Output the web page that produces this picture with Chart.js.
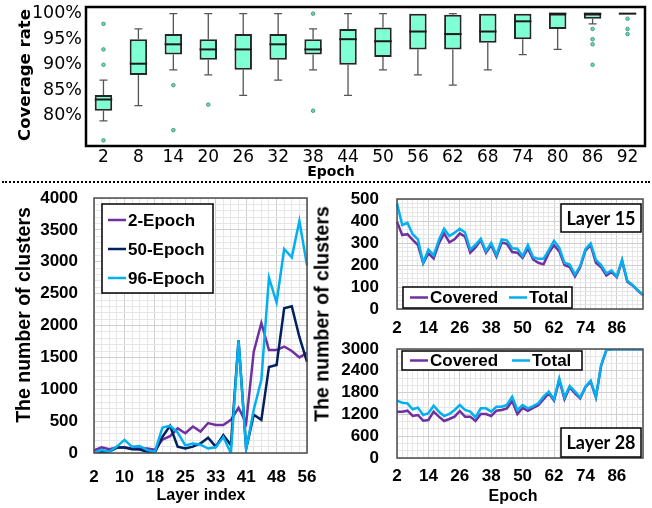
<!DOCTYPE html>
<html>
<head>
<meta charset="utf-8">
<script src="https://cdn.jsdelivr.net/npm/chart.js@4.4.1/dist/chart.umd.min.js"></script>
<style>
  body { margin: 0; background: #fff; width: 652px; height: 508px; position: relative; overflow: hidden; }
  canvas { position: absolute; }
  .t { position: absolute; white-space: nowrap; color: #000; transform: translate(-50%, -50%); }
  .v { transform: translate(-50%, -50%) rotate(-90deg); }
  #dots { position: absolute; left: 2px; top: 181px; width: 648px; border-top: 2px dotted #000; }
</style>
</head>
<body>
<canvas id="cov" width="652" height="178" style="left:0;top:0"></canvas>
<div id="dots"></div>
<canvas id="layers" width="325" height="323" style="left:0;top:185px"></canvas>
<canvas id="l15" width="337" height="155" style="left:315px;top:185px"></canvas>
<canvas id="l28" width="337" height="173" style="left:315px;top:335px"></canvas>

<div class="t v" style="left:24px;top:75px;font:bold 16.5px 'DejaVu Sans'">Coverage rate</div>
<div class="t" style="left:331px;top:171px;font:bold 14px 'DejaVu Sans'">Epoch</div>
<div class="t v" style="left:23px;top:315px;font:bold 19.5px 'Liberation Sans'">The number of clusters</div>
<div class="t" style="left:201px;top:495px;font:bold 16px 'Liberation Sans'">Layer index</div>
<div class="t v" style="left:322px;top:314px;font:bold 19.5px 'Liberation Sans'">The number of clusters</div>
<div class="t" style="left:513px;top:496px;font:bold 16px 'Liberation Sans'">Epoch</div>

<script>
// ---- top: coverage rate box plot ----
const boxEpochs = ['2', '8', '14', '20', '26', '32', '38', '44', '50', '56', '62', '68', '74', '80', '86', '92'];
const boxMin    = [79, 82, 89, 88, 84, 87, 89, 84, 89, 88, 86, 89, 92, 93, 98, 100];
const boxQ1     = [81, 88, 92, 91, 89, 91, 92, 90, 91.5, 93, 93, 94.3, 95, 97, 99, 100];
const boxMedian = [83.2, 90.2, 94, 93, 93, 94, 93, 95, 94.6, 96.5, 96, 96.5, 98.5, 100, 100, 100];
const boxQ3     = [84.1, 95, 96, 95, 96, 96, 95, 97, 97.3, 100, 99.8, 100, 100, 100, 100, 100];
const boxMax    = [87, 97, 100, 100, 100, 100, 97, 100, 100, 100, 100, 100, 100, 100, 100, 100];
const boxOutliers = [[98, 93, 90, 75.2], [], [86, 77.2], [82.2], [], [], [100, 81], [], [], [], [], [], [], [], [97, 95, 94, 90], [99, 97, 96]];
const coverageTicks = [80, 85, 90, 95, 100];

// ---- bottom left: clusters per layer ----
const layerLabels = ['2', '4', '6', '8', '10', '12', '14', '16', '18', '20', '22', '23', '25', '27', '29', '31', '33', '35', '37', '39', '41', '43', '44', '46', '48', '50', '52', '54', '56'];
const epoch2  = [40, 90, 60, 85, 85, 70, 70, 70, 50, 210, 265, 385, 310, 415, 335, 470, 440, 440, 520, 710, 470, 1590, 2040, 1615, 1615, 1670, 1600, 1500, 1570];
const epoch50 = [5, 20, 20, 85, 85, 60, 55, 20, 5, 255, 425, 100, 70, 100, 150, 240, 100, 280, 125, 1770, 65, 600, 520, 1350, 1380, 2270, 2300, 1820, 1430];
const epoch96 = [5, 45, 20, 100, 205, 100, 110, 45, 20, 400, 425, 320, 120, 150, 130, 70, 90, 250, 0, 1770, 60, 680, 1150, 2750, 2360, 3200, 3070, 3640, 2940];

// ---- bottom right: covered / total per epoch ----
const epochLabels = [];
for (let e = 2; e <= 96; e += 2) epochLabels.push(String(e));
const covered15 = [397, 336, 340, 314, 291, 208, 253, 230, 298, 344, 303, 317, 344, 329, 256, 280, 314, 256, 291, 238, 302, 296, 259, 256, 232, 275, 225, 210, 203, 255, 290, 262, 200, 190, 148, 190, 265, 290, 210, 190, 152, 168, 145, 220, 124, 107, 84, 64];
const total15   = [480, 382, 392, 340, 316, 210, 270, 244, 314, 365, 332, 347, 365, 348, 270, 292, 319, 263, 300, 245, 316, 312, 276, 274, 240, 291, 235, 228, 228, 268, 310, 278, 210, 202, 157, 195, 272, 298, 223, 200, 162, 175, 147, 223, 128, 109, 86, 64];
const covered28 = [1275, 1275, 1303, 1156, 1183, 1028, 1046, 1275, 1138, 1018, 1073, 1138, 1294, 1138, 1138, 1018, 1211, 1211, 1156, 1303, 1321, 1367, 1569, 1211, 1380, 1300, 1380, 1450, 1620, 1780, 1580, 2150, 1620, 1950, 1780, 1640, 1950, 2100, 1670, 2540, 2970, 2990, 2990, 2990, 2990, 2990, 2990, 2990];
const total28   = [1578, 1523, 1505, 1340, 1386, 1183, 1230, 1440, 1275, 1156, 1211, 1321, 1459, 1321, 1275, 1120, 1367, 1367, 1275, 1413, 1413, 1459, 1688, 1321, 1459, 1367, 1430, 1505, 1688, 1825, 1615, 2193, 1670, 1982, 1825, 1670, 1963, 2128, 1688, 2560, 2973, 2990, 2990, 2990, 2990, 2990, 2990, 2990];
const panelTags = ['Layer 15', 'Layer 28'];

const PURPLE = '#7030A0', NAVY = '#002060', BLUE = '#00B0F0';
const tickFont = { family: 'Liberation Sans', size: 17, weight: 'bold' };

// frame round the plot area
const frame = {
  id: 'frame',
  afterDatasetsDraw(chart, args, o) {
    const a = chart.chartArea, c = chart.ctx;
    c.save();
    c.strokeStyle = o.color;
    c.lineWidth = o.width;
    c.strokeRect(a.left, a.top, a.right - a.left, a.bottom - a.top);
    c.restore();
  }
};

// whiskers and medians for the box plot
const whiskers = {
  id: 'whiskers',
  beforeDatasetsDraw(chart) {
    const c = chart.ctx, y = chart.scales.y;
    const meta = chart.getDatasetMeta(0);
    c.save();
    c.strokeStyle = '#555';
    c.lineWidth = 1.3;
    meta.data.forEach((bar, i) => {
      [[boxQ3[i], boxMax[i]], [boxQ1[i], boxMin[i]]].forEach(([from, to]) => {
        if (from === to) return;
        const y0 = y.getPixelForValue(from), y1 = y.getPixelForValue(to);
        c.beginPath();
        c.moveTo(bar.x, y0); c.lineTo(bar.x, y1);
        c.moveTo(bar.x - 4, y1); c.lineTo(bar.x + 4, y1);
        c.stroke();
      });
    });
    c.restore();
  },
  afterDatasetsDraw(chart) {
    const c = chart.ctx, y = chart.scales.y;
    const meta = chart.getDatasetMeta(0);
    c.save();
    c.strokeStyle = '#1a1a1a';
    c.lineWidth = 2;
    meta.data.forEach((bar, i) => {
      const ym = y.getPixelForValue(boxMedian[i]);
      c.beginPath();
      c.moveTo(bar.x - bar.width / 2, ym); c.lineTo(bar.x + bar.width / 2, ym);
      c.stroke();
    });
    c.restore();
  }
};

// boxed legend + tag box
const boxLegend = {
  id: 'boxLegend',
  afterDraw(chart, args, o) {
    const c = chart.ctx;
    c.save();
    if (o.box) {
      const [x1, y1, x2, y2] = o.box;
      c.fillStyle = '#fff';
      c.fillRect(x1, y1, x2 - x1, y2 - y1);
      c.strokeStyle = '#000';
      c.lineWidth = 1.5;
      c.strokeRect(x1, y1, x2 - x1, y2 - y1);
      c.font = 'bold 17px "Liberation Sans"';
      c.textBaseline = 'middle';
      chart.data.datasets.forEach((ds, i) => {
        const [lx, ly] = o.rows[i];
        c.strokeStyle = ds.borderColor;
        c.lineWidth = 2.5;
        c.beginPath(); c.moveTo(lx, ly); c.lineTo(lx + 18, ly); c.stroke();
        c.fillStyle = '#000';
        c.fillText(ds.label, lx + 20, ly + 1);
      });
    }
    if (o.tag) {
      const [x1, y1, x2, y2] = o.tag.box;
      c.fillStyle = '#fff';
      c.fillRect(x1, y1, x2 - x1, y2 - y1);
      c.strokeStyle = '#000';
      c.lineWidth = 1.5;
      c.strokeRect(x1, y1, x2 - x1, y2 - y1);
      c.font = 'bold 18px Lato';
      c.fillStyle = '#000';
      c.textAlign = 'center';
      c.textBaseline = 'middle';
      c.fillText(o.tag.text, (x1 + x2) / 2, (y1 + y2) / 2 + 1);
    }
    c.restore();
  }
};

// ---- top chart ----
const outlierPoints = [];
boxOutliers.forEach((list, i) => list.forEach(v => outlierPoints.push({ x: boxEpochs[i], y: v })));

new Chart(document.getElementById('cov'), {
  type: 'bar',
  data: {
    labels: boxEpochs,
    datasets: [
      {
        data: boxEpochs.map((e, i) => [boxQ1[i], boxQ3[i]]),
        backgroundColor: '#7fffd4',
        borderColor: '#262626',
        borderWidth: 2,
        borderSkipped: false,
        barPercentage: 0.5,
        categoryPercentage: 1
      },
      {
        type: 'line',
        showLine: false,
        data: outlierPoints,
        pointRadius: 1.8,
        pointBackgroundColor: '#6fd6b4',
        pointBorderColor: '#2e8b6f',
        pointBorderWidth: 0.8
      }
    ]
  },
  options: {
    responsive: false,
    animation: false,
    layout: { padding: { top: 7, right: 7 } },
    plugins: {
      legend: { display: false },
      tooltip: { enabled: false },
      frame: { color: '#000', width: 2.5 }
    },
    scales: {
      x: {
        grid: { color: 'transparent', tickColor: 'transparent', tickLength: 1 },
        border: { display: false },
        ticks: { color: '#000', padding: 0, font: { family: 'DejaVu Sans', size: 17 } },
        afterFit: s => { s.height = 32; }
      },
      y: {
        min: 74.1,
        max: 101.3,
        grid: { color: 'transparent', tickColor: 'transparent', tickLength: 4 },
        border: { display: false },
        afterBuildTicks: s => { s.ticks = coverageTicks.map(v => ({ value: v })); },
        ticks: { color: '#000', padding: 0, font: { family: 'DejaVu Sans', size: 17.5, lineHeight: 0.8 }, callback: v => v + '%' },
        afterFit: s => { s.width = 86; }
      }
    }
  },
  plugins: [whiskers, frame]
});

// ---- shared line-chart scales ----
function lineScales(opt) {
  return {
    x: {
      grid: {
        tickColor: 'transparent',
        tickLength: opt.xPad,
        color: ctx => (ctx.index % opt.every === 0 ? '#cfcfcf' : '#e6e6e6')
      },
      border: { display: false },
      ticks: {
        autoSkip: false,
        maxRotation: 0,
        color: '#000',
        padding: 0,
        font: tickFont,
        callback: function (v, i) { return i % opt.every === 0 ? this.getLabelForValue(v) : ''; }
      },
      afterFit: s => { s.height = opt.xHeight; }
    },
    y: {
      min: 0,
      max: opt.max,
      grid: {
        tickColor: 'transparent',
        tickLength: opt.yPad,
        color: ctx => (ctx.tick && ctx.tick.value % opt.major === 0 ? '#cfcfcf' : '#e6e6e6')
      },
      border: { display: false },
      afterBuildTicks: s => {
        s.ticks = [];
        for (let v = 0; v <= opt.max; v += opt.minor) s.ticks.push({ value: v });
      },
      ticks: {
        autoSkip: false,
        color: '#000',
        padding: 0,
        font: tickFont,
        callback: v => (v % opt.major === 0 ? v : '')
      },
      afterFit: s => { s.width = opt.yWidth; }
    }
  };
}

// later series sit on top, as in the original
function lineSet(label, data, color, order) {
  return { label, data, order, borderColor: color, backgroundColor: color, borderWidth: 2.5, pointRadius: 0, tension: 0 };
}

// ---- bottom left ----
new Chart(document.getElementById('layers'), {
  type: 'line',
  data: {
    labels: layerLabels,
    datasets: [
      lineSet('2-Epoch', epoch2, PURPLE, 3),
      lineSet('50-Epoch', epoch50, NAVY, 2),
      lineSet('96-Epoch', epoch96, BLUE, 1)
    ]
  },
  options: {
    responsive: false,
    animation: false,
    layout: { padding: { top: 13, right: 18 } },
    plugins: {
      legend: { display: false },
      tooltip: { enabled: false },
      frame: { color: '#4d4d4d', width: 1.5 },
      boxLegend: { box: [102, 19, 213, 108], rows: [[108, 35], [108, 64], [108, 93]] }
    },
    scales: lineScales({ every: 4, max: 4000, minor: 100, major: 500, xPad: 14, xHeight: 55, yPad: 16, yWidth: 94 })
  },
  plugins: [frame, boxLegend]
});

// ---- bottom right, layer 15 ----
new Chart(document.getElementById('l15'), {
  type: 'line',
  data: {
    labels: epochLabels,
    datasets: [lineSet('Covered', covered15, PURPLE, 2), lineSet('Total', total15, BLUE, 1)]
  },
  options: {
    responsive: false,
    animation: false,
    layout: { padding: { top: 14, right: 9 } },
    plugins: {
      legend: { display: false },
      tooltip: { enabled: false },
      frame: { color: '#4d4d4d', width: 1.5 },
      boxLegend: {
        box: [88, 102, 257, 123],
        rows: [[95, 112.5], [194, 112.5]],
        tag: { box: [246, 19, 326, 47], text: panelTags[0] }
      }
    },
    scales: lineScales({ every: 6, max: 500, minor: 20, major: 100, xPad: 9, xHeight: 31, yPad: 18, yWidth: 82 })
  },
  plugins: [frame, boxLegend]
});

// ---- bottom right, layer 28 ----
new Chart(document.getElementById('l28'), {
  type: 'line',
  data: {
    labels: epochLabels,
    datasets: [lineSet('Covered', covered28, PURPLE, 2), lineSet('Total', total28, BLUE, 1)]
  },
  options: {
    responsive: false,
    animation: false,
    layout: { padding: { top: 14, right: 9 } },
    plugins: {
      legend: { display: false },
      tooltip: { enabled: false },
      frame: { color: '#4d4d4d', width: 1.5 },
      boxLegend: {
        box: [87, 16, 267, 35],
        rows: [[95, 25.5], [197, 25.5]],
        tag: { box: [246, 93, 326, 122], text: panelTags[1] }
      }
    },
    scales: lineScales({ every: 6, max: 3000, minor: 200, major: 600, xPad: 8.5, xHeight: 50, yPad: 18, yWidth: 82 })
  },
  plugins: [frame, boxLegend]
});
</script>
</body>
</html>
